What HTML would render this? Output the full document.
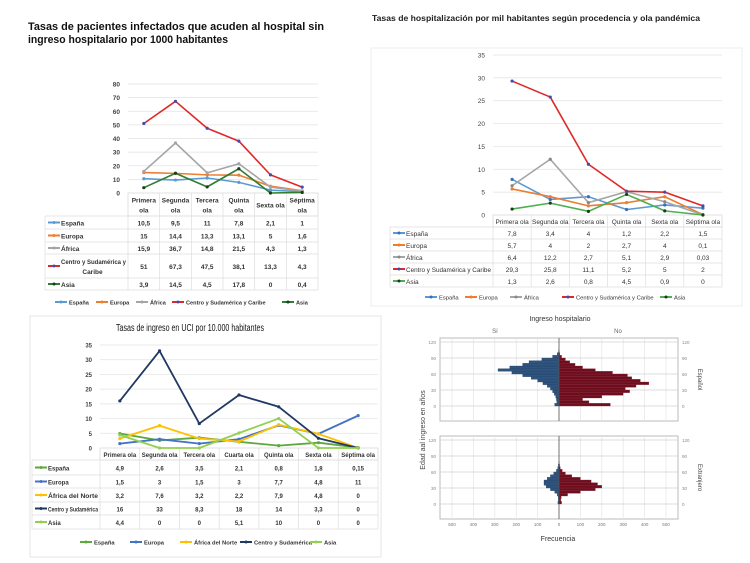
<!DOCTYPE html>
<html><head><meta charset="utf-8">
<style>
html,body{margin:0;padding:0;background:#fff;}
svg{display:block;font-family:"Liberation Sans",sans-serif;}
</style></head>
<body>
<svg id="root" width="750" height="563" viewBox="0 0 750 563" xmlns="http://www.w3.org/2000/svg">
<rect x="0" y="0" width="750" height="563" fill="#fff"/>
<text x="28" y="30" font-size="11" font-weight="bold" fill="#111" textLength="296" lengthAdjust="spacingAndGlyphs">Tasas de pacientes infectados que acuden al hospital sin</text>
<text x="28" y="43" font-size="11" font-weight="bold" fill="#111" textLength="200" lengthAdjust="spacingAndGlyphs">ingreso hospitalario por 1000 habitantes</text>
<text x="372" y="21" font-size="8" font-weight="bold" fill="#222" textLength="328" lengthAdjust="spacingAndGlyphs">Tasas de hospitalización por mil habitantes según procedencia y ola pandémica</text>
<rect x="371" y="48" width="371" height="258" fill="none" stroke="#eee"/>
<rect x="30" y="316" width="351" height="241" fill="none" stroke="#e4e4e4"/>
<text x="190" y="331" font-size="10" fill="#111" text-anchor="middle" textLength="148" lengthAdjust="spacingAndGlyphs">Tasas de ingreso en UCI por 10.000 habitantes</text>
<g id="c1"></g>
<g id="c2"></g>
<g id="c3"></g>
<g id="c4"></g>
</svg>
<script>
// ---- Chart 1 data ----
const c1Cats = ["Primera|ola","Segunda|ola","Tercera|ola","Quinta|ola","Sexta ola","Séptima|ola"];
const c1Names = ["España","Europa","África","Centro y Sudamérica y|Caribe","Asia"];
const c1Espana = [10.5,9.5,11,7.8,2.1,1];
const c1Europa = [15,14.4,13.3,13.1,5,1.6];
const c1Africa = [15.9,36.7,14.8,21.5,4.3,1.3];
const c1Centro = [51,67.3,47.5,38.1,13.3,4.3];
const c1Asia = [3.9,14.5,4.5,17.8,0,0.4];
const c1Ticks = [0,10,20,30,40,50,60,70,80];
const c1Labels = [["10,5","9,5","11","7,8","2,1","1"],["15","14,4","13,3","13,1","5","1,6"],["15,9","36,7","14,8","21,5","4,3","1,3"],["51","67,3","47,5","38,1","13,3","4,3"],["3,9","14,5","4,5","17,8","0","0,4"]];
// ---- Chart 2 data ----
const c2Cats = ["Primera ola","Segunda ola","Tercera ola","Quinta ola","Sexta ola","Séptima ola"];
const c2Names = ["España","Europa","África","Centro y Sudamérica y Caribe","Asia"];
const c2Espana = [7.8,3.4,4,1.2,2.2,1.5];
const c2Europa = [5.7,4,2,2.7,4,0.1];
const c2Africa = [6.4,12.2,2.7,5.1,2.9,0.03];
const c2Centro = [29.3,25.8,11.1,5.2,5,2];
const c2Asia = [1.3,2.6,0.8,4.5,0.9,0];
const c2Ticks = [0,5,10,15,20,25,30,35];
const c2Labels = [["7,8","3,4","4","1,2","2,2","1,5"],["5,7","4","2","2,7","4","0,1"],["6,4","12,2","2,7","5,1","2,9","0,03"],["29,3","25,8","11,1","5,2","5","2"],["1,3","2,6","0,8","4,5","0,9","0"]];
// ---- Chart 3 data ----
const c3Cats = ["Primera ola","Segunda ola","Tercera ola","Cuarta ola","Quinta ola","Sexta ola","Séptima ola"];
const c3Names = ["España","Europa","África del Norte","Centro y Sudamérica","Asia"];
const c3Espana = [4.9,2.6,3.5,2.1,0.8,1.8,0.15];
const c3Europa = [1.5,3,1.5,3,7.7,4.8,11];
const c3Africa = [3.2,7.6,3.2,2.2,7.9,4.8,0];
const c3Centro = [16,33,8.3,18,14,3.3,0];
const c3Asia = [4.4,0,0,5.1,10,0,0];
const c3Ticks = [0,5,10,15,20,25,30,35];
const c3Labels = [["4,9","2,6","3,5","2,1","0,8","1,8","0,15"],["1,5","3","1,5","3","7,7","4,8","11"],["3,2","7,6","3,2","2,2","7,9","4,8","0"],["16","33","8,3","18","14","3,3","0"],["4,4","0","0","5,1","10","0","0"]];
// ---- Pyramid data (5-year age bins starting at 0) ----
const pyAges = [0,5,10,15,20,25,30,35,40,45,50,55,60,65,70,75,80,85,90,95,100];
const pyEspSi = [20,10,12,15,22,30,40,55,75,100,130,170,220,285,230,170,140,80,30,8,2];
const pyEspNo = [240,140,110,200,300,330,310,360,420,380,340,320,250,170,110,75,50,30,12,4,1];
const pyExtSi = [5,3,4,8,20,40,60,70,70,55,40,25,12,6,3,1,0,0,0,0,0];
const pyExtNo = [12,8,10,40,100,170,200,180,150,100,60,30,15,6,3,1,0,0,0,0,0];
const pyTicks = [500,400,300,200,100,0,100,200,300,400,500];

const NS="http://www.w3.org/2000/svg";
function mk(parent,tag,attrs,text){const e=document.createElementNS(NS,tag);for(const k in attrs)e.setAttribute(k,attrs[k]);if(text!==undefined)e.textContent=text;parent.appendChild(e);return e;}

function lineChart(g,cfg){
  const n=cfg.cats.length, w=(cfg.x1-cfg.x0)/n;
  const ys=v=>cfg.y0-(v/cfg.max)*(cfg.y0-cfg.yTop);
  const xs=i=>cfg.x0+(i+0.5)*w;
  cfg.ticks.forEach(t=>{
    const gl=mk(g,'line',{x1:cfg.x0,x2:cfg.x1,y1:ys(t),y2:ys(t),stroke:'#e2e2e2','stroke-width':0.7});
    
    
    const tl=mk(g,'text',{x:cfg.x0-8,y:ys(t)+2.5,'font-size':cfg.fs,'text-anchor':'end',fill:'#444','font-weight':cfg.bold?'bold':'normal'},String(t));
    
    
  });
  const rows=cfg.rows;
  const tb=mk(g,'g',{});
  
  
  mk(tb,'rect',{x:cfg.x0,y:cfg.y0,width:cfg.x1-cfg.x0,height:rows[0]-cfg.y0,fill:'none',stroke:'#ddd','stroke-width':0.7});
  for(let i=0;i<=n;i++) mk(tb,'line',{x1:cfg.x0+i*w,x2:cfg.x0+i*w,y1:cfg.y0,y2:rows[rows.length-1],stroke:'#ddd','stroke-width':0.7});
  rows.forEach(r=>mk(tb,'line',{x1:cfg.lx,x2:cfg.x1,y1:r,y2:r,stroke:'#ddd','stroke-width':0.7}));
  mk(tb,'line',{x1:cfg.lx,x2:cfg.lx,y1:rows[0],y2:rows[rows.length-1],stroke:'#ddd','stroke-width':0.7});
  cfg.cats.forEach((c,i)=>{
    const parts=c.split('|');
    const hh=rows[0]-cfg.y0;
    parts.forEach((p,j)=>{
      const t=mk(tb,'text',{x:xs(i),y:cfg.y0+hh/2+3+(j-(parts.length-1)/2)*10,'font-size':cfg.fs,'text-anchor':'middle',fill:'#333','font-weight':cfg.bold?'bold':'normal'},p);
      
      
    });
  });
  cfg.series.forEach((s,si)=>{
    const y0=rows[si],y1=rows[si+1],ym=(y0+y1)/2;
    mk(tb,'line',{x1:cfg.lx+3,x2:cfg.lx+15,y1:ym,y2:ym,stroke:s.color,'stroke-width':2});
    mk(tb,'circle',{cx:cfg.lx+9,cy:ym,r:1.5,fill:s.mark});
    const parts=cfg.names[si].split('|');
    const maxW=cfg.x0-cfg.lx-18;
    parts.forEach((p,j)=>{
      const at={x:j==0?cfg.lx+16:(cfg.lx+cfg.x0)/2+6,y:ym+3+(j-(parts.length-1)/2)*10,'font-size':cfg.fs,fill:'#333','font-weight':cfg.bold?'bold':'normal','text-anchor':j==0?'start':'middle'};
      if(p.length*cfg.fs*0.55>maxW){at.textLength=maxW;at.lengthAdjust='spacingAndGlyphs';}
      const t=mk(tb,'text',at,p);
      
      
    });
    cfg.labels[si].forEach((v,i)=>{
      const t=mk(tb,'text',{x:xs(i),y:ym+3,'font-size':cfg.fs,'text-anchor':'middle',fill:'#333','font-weight':cfg.bold?'bold':'normal'},v);
      
      
    });
  });
  cfg.series.forEach((s)=>{
    const pts=s.data.map((v,i)=>xs(i)+','+ys(v)).join(' ');
    const pl=mk(g,'polyline',{points:pts,fill:'none',stroke:s.color,'stroke-width':cfg.sw,'stroke-linejoin':'round'});
    
    
    s.data.forEach((v,i)=>{
      const c=mk(g,'circle',{cx:xs(i),cy:ys(v),r:1.6,fill:s.mark});
      
      
    });
  });
  const lg=mk(g,'g',{});
  
  
  cfg.series.forEach((s,si)=>{
    const x=cfg.legX[si];
    mk(lg,'line',{x1:x,x2:x+12,y1:cfg.legY,y2:cfg.legY,stroke:s.color,'stroke-width':2});
    mk(lg,'circle',{cx:x+6,cy:cfg.legY,r:1.5,fill:s.mark});
    const t=mk(lg,'text',{x:x+14,y:cfg.legY+2.5,'font-size':cfg.lfs,fill:'#333','font-weight':cfg.bold?'bold':'normal'},cfg.names[si].replace('|',' '));
    
    
  });
}

lineChart(document.getElementById('c1'),{
  cats:c1Cats,names:c1Names,labels:c1Labels,ticks:c1Ticks,max:80,
  x0:128,x1:318,y0:193,yTop:84,lx:45,rows:[216,229,242,254,278,290],
  fs:6.5,lfs:5.6,bold:true,sw:1.6,legY:302,legX:[55,96,136,172,282],
  series:[
    {key:'espana',data:c1Espana,color:'#5b9bd5',mark:'#5b9bd5'},
    {key:'europa',data:c1Europa,color:'#ed7d31',mark:'#ed7d31'},
    {key:'africa',data:c1Africa,color:'#a5a5a5',mark:'#a5a5a5'},
    {key:'centro',data:c1Centro,color:'#e02828',mark:'#3b4fb0'},
    {key:'asia',data:c1Asia,color:'#2e7d32',mark:'#1b3d1c'}
  ]});
lineChart(document.getElementById('c2'),{
  cats:c2Cats,names:c2Names,labels:c2Labels,ticks:c2Ticks,max:35,
  x0:493,x1:722,y0:215,yTop:55,lx:390,rows:[227,239,251,263,275,287],
  fs:6.5,lfs:5.8,bold:false,sw:1.6,legY:297,legX:[425,465,510,562,660],
  series:[
    {key:'espana',data:c2Espana,color:'#5b9bd5',mark:'#3a6fb0'},
    {key:'europa',data:c2Europa,color:'#ed7d31',mark:'#ed7d31'},
    {key:'africa',data:c2Africa,color:'#a5a5a5',mark:'#888'},
    {key:'centro',data:c2Centro,color:'#e02828',mark:'#3b4fb0'},
    {key:'asia',data:c2Asia,color:'#4caf50',mark:'#1b3d1c'}
  ]});
lineChart(document.getElementById('c3'),{
  cats:c3Cats,names:c3Names,labels:c3Labels,ticks:c3Ticks,max:35,
  x0:100,x1:378,y0:448,yTop:345,lx:32,rows:[460,475,488,502,515,529],
  fs:6,lfs:5.8,bold:true,sw:1.8,legY:542,legX:[80,130,180,240,310],
  series:[
    {key:'espana',data:c3Espana,color:'#5ea83e',mark:'#5ea83e'},
    {key:'europa',data:c3Europa,color:'#4472c4',mark:'#4472c4'},
    {key:'africa',data:c3Africa,color:'#ffc000',mark:'#ffc000'},
    {key:'centro',data:c3Centro,color:'#1f3864',mark:'#1f3864'},
    {key:'asia',data:c3Asia,color:'#92d050',mark:'#92d050'}
  ]});

// ---- Pyramid ----
(function(){
  const g=document.getElementById('c4');
  const cx=559, xsc=21.4/100;
  const panels=[{top:338,bot:421,y0:406,y120:342,si:pyEspSi,no:pyEspNo,lab:'Español',key:'espanol'},
                {top:436,bot:519,y0:504,y120:440,si:pyExtSi,no:pyExtNo,lab:'Extranjero',key:'extranjero'}];
  mk(g,'text',{x:560,y:321,'font-size':7,'text-anchor':'middle',fill:'#333'},'Ingreso hospitalario');
  mk(g,'text',{x:495,y:333,'font-size':6,'text-anchor':'middle',fill:'#666'},'Sí');
  mk(g,'text',{x:618,y:333,'font-size':6,'text-anchor':'middle',fill:'#666'},'No');
  panels.forEach(p=>{
    const ay=a=>p.y0-(a/120)*(p.y0-p.y120);
    const pg=mk(g,'g',{});
    
    
    mk(pg,'rect',{x:440,y:p.top,width:238,height:p.bot-p.top,fill:'#fff',stroke:'#bbb','stroke-width':1});
    pyTicks.forEach((t,i)=>{const x=cx+(i-5)*100*xsc;mk(pg,'line',{x1:x,x2:x,y1:p.top,y2:p.bot,stroke:'#e4e4e4','stroke-width':0.7});});
    [0,30,60,90,120].forEach(a=>{
      mk(pg,'line',{x1:440,x2:678,y1:ay(a),y2:ay(a),stroke:'#d0d0d0','stroke-width':0.8});
      mk(pg,'text',{x:436,y:ay(a)+2,'font-size':4.5,'text-anchor':'end',fill:'#888'},String(a));
      mk(pg,'text',{x:682,y:ay(a)+2,'font-size':4.5,fill:'#888'},String(a));
    });
    const bh=(p.y0-p.y120)/120*5;
    pyAges.forEach((a,i)=>{
      const yTop=ay(a+5);
      const b1=mk(pg,'rect',{x:cx-p.si[i]*xsc,y:yTop,width:p.si[i]*xsc,height:bh,fill:'#2f5480',stroke:'#1e3a5c','stroke-width':0.3});
      
      
      const b2=mk(pg,'rect',{x:cx,y:yTop,width:p.no[i]*xsc,height:bh,fill:'#6e0d1e',stroke:'#8a3040','stroke-width':0.3});
      
      
    });
    mk(pg,'line',{x1:cx,x2:cx,y1:p.top,y2:p.bot,stroke:'#555','stroke-width':0.8});
    const mid=(p.top+p.bot)/2;
    mk(pg,'text',{x:0,y:0,'font-size':6,fill:'#444','text-anchor':'middle',transform:'translate(698,'+mid+') rotate(90)'},p.lab);
  });
  pyTicks.forEach((t,i)=>{
    const tl=mk(g,'text',{x:cx+(i-5)*100*xsc,y:526,'font-size':4.5,'text-anchor':'middle',fill:'#777'},String(t));
    
    
  });
  mk(g,'text',{x:558,y:541,'font-size':7,'text-anchor':'middle',fill:'#333'},'Frecuencia');
  mk(g,'text',{x:0,y:0,'font-size':7,'text-anchor':'middle',fill:'#444',transform:'translate(425,430) rotate(-90)'},'Edad aal ingreso en años');
})();
</script>
</body></html>
